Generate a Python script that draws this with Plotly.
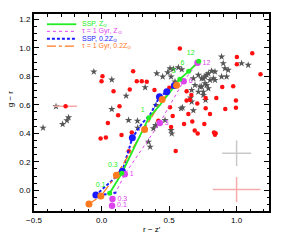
import plotly.graph_objects as go

# ---------------- data ----------------
# galaxies (red dots)
red_x = [0.58, 1.116, 1.002, 1.002, 1.177, 0.234, 0.007, 0.0, 0.089, 0.261, 0.298, 0.335,
         0.209, 0.392, 0.133, 0.123, 0.047, -0.007, 0.032, 0.148, 0.224, 0.202, 0.549,
         0.527, 0.643, 0.611, 0.672, 0.69, 0.712, 0.761, 0.771, 0.709, 0.421, 0.833,
         0.845, 0.84, 0.803, 0.916, 0.995, 0.995, 0.894, 0.975, 0.771, 0.85, 0.63,
         0.665, 0.63, 0.655, 0.502, 0.507, 0.515]
red_y = [0.995, 0.962, 0.935, 0.885, 0.815, 0.835, 0.8, 0.765, 0.695, 0.766, 0.766, 0.762,
         0.708, 0.703, 0.59, 0.527, 0.472, 0.363, 0.37, 0.389, 0.405, 0.275, 0.276,
         0.522, 0.535, 0.465, 0.483, 0.42, 0.398, 0.465, 0.576, 0.61, 0.488, 0.405,
         0.4, 0.39, 0.535, 0.57, 0.58, 0.63, 0.725, 0.73, 0.648, 0.648, 0.695,
         0.668, 0.63, 0.635, 0.72, 0.582, 0.445]

# outlier galaxy with horizontal error bar
out_x = [-0.266]
out_y = [0.59]
out_xerr = [0.085]

# comparison sample (grey stars)
star_x = [0.889, 0.901, 0.914, 0.938, 0.84, 0.815, 0.791, 0.766, 0.754, 0.828, 0.803, 0.84,
          0.889, 0.926, 1.037, 1.086, 0.778, 0.741, 0.754, 0.409, 0.507, 0.532, 0.569,
          0.594, 0.49, 0.515, 0.453, 0.323, 0.544, 0.68, 0.717, 0.741, 0.778, 0.692,
          0.729, 0.766, 0.791, 0.667, 0.717, 0.754, 0.589, 0.667, 0.266, 0.384, 0.401,
          0.515, 0.52, 0.347, 0.36, 0.268, 0.182, 0.076, 0.2, -0.057, 0.076, -0.433,
          -0.337, -0.288, -0.256, -0.244, 0.77, 0.68, 0.60, 0.47, 0.404, 0.66]
star_y = [0.937, 0.891, 0.855, 0.844, 0.832, 0.837, 0.82, 0.797, 0.785, 0.785, 0.773, 0.773,
          0.797, 0.797, 0.891, 0.879, 0.738, 0.727, 0.691, 0.82, 0.855, 0.851, 0.862,
          0.848, 0.827, 0.797, 0.797, 0.722, 0.762, 0.785, 0.809, 0.785, 0.809, 0.738,
          0.727, 0.75, 0.715, 0.703, 0.691, 0.668, 0.574, 0.621, 0.487, 0.434, 0.457,
          0.422, 0.398, 0.34, 0.305, 0.438, 0.663, 0.569, 0.492, 0.832, 0.776, 0.438,
          0.588, 0.464, 0.49, 0.511, 0.633, 0.56, 0.58, 0.492, 0.598, 0.65]

# typical error crosses
err_grey_x, err_grey_y, err_grey_dx, err_grey_dy = [1.0], [0.26], [0.107], [0.09]
err_red_x, err_red_y, err_red_dx, err_red_dy = [1.0], [0.005], [0.177], [0.088]

# model tracks
ages = ["0.1", "0.3", "1", "3", "6", "12"]

ssp_sun_track_x = [0.06, 0.15, 0.25, 0.35, 0.436, 0.58, 0.645, 0.72]
ssp_sun_track_y = [-0.02, 0.12, 0.315, 0.51, 0.602, 0.78, 0.835, 0.905]
ssp_sun_x = [0.06, 0.15, 0.35, 0.58, 0.645, 0.72]
ssp_sun_y = [-0.02, 0.12, 0.51, 0.78, 0.835, 0.905]

tau_sun_x = [0.078, 0.081, 0.172, 0.431, 0.608, 0.711]
tau_sun_y = [-0.108, -0.061, 0.112, 0.473, 0.766, 0.895]

ssp_low_track_x = [0.11, 0.06, -0.042, 0.154, 0.228, 0.30, 0.36, 0.429, 0.483, 0.54]
ssp_low_track_y = [-0.015, -0.025, -0.033, 0.134, 0.368, 0.47, 0.53, 0.656, 0.691, 0.735]
ssp_low_x = [-0.042, 0.154, 0.228, 0.429, 0.483, 0.54]
ssp_low_y = [-0.033, 0.134, 0.368, 0.656, 0.691, 0.735]

tau_low_x = [-0.093, -0.005, 0.11, 0.319, 0.449, 0.556]
tau_low_y = [-0.096, -0.04, 0.105, 0.427, 0.637, 0.738]

legend_labels = ["SSP, Z<sub>\u2299</sub>", "\u03c4 = 1 Gyr, Z<sub>\u2299</sub>",
                 "SSP, 0.2Z<sub>\u2299</sub>", "\u03c4 = 1 Gyr, 0.2Z<sub>\u2299</sub>"]

# ---------------- style ----------------
GREEN = "#22ee22"
MAG = "#dd44ee"
BLUE = "#1a1aff"
ORANGE = "#ff7a1f"
FONT = "Liberation Sans, Arial, sans-serif"

fig = go.Figure()

# error crosses
fig.add_trace(go.Scatter(x=err_grey_x, y=err_grey_y, mode="markers",
                         marker=dict(size=1, opacity=0),
                         error_x=dict(type="data", array=err_grey_dx, color="#c8c8c8", thickness=1.5, width=0),
                         error_y=dict(type="data", array=err_grey_dy, color="#c8c8c8", thickness=1.5, width=0)))
fig.add_trace(go.Scatter(x=err_red_x, y=err_red_y, mode="markers",
                         marker=dict(size=1, opacity=0),
                         error_x=dict(type="data", array=err_red_dx, color="#f6aaaa", thickness=1.5, width=0),
                         error_y=dict(type="data", array=err_red_dy, color="#f6aaaa", thickness=1.5, width=0)))

# stars
fig.add_trace(go.Scatter(x=star_x, y=star_y, mode="markers",
                         marker=dict(symbol="star", size=5.5, color="#555555", line=dict(width=0))))
# red galaxies
fig.add_trace(go.Scatter(x=red_x, y=red_y, mode="markers",
                         marker=dict(symbol="circle", size=4.5, color="#ff1010", line=dict(width=0))))
fig.add_trace(go.Scatter(x=out_x, y=out_y, mode="markers",
                         marker=dict(symbol="circle", size=4.5, color="#ff1010", line=dict(width=0)),
                         error_x=dict(type="data", array=out_xerr, color="#f6aaaa", thickness=1.5, width=0)))

# tracks: lines
fig.add_trace(go.Scatter(x=tau_sun_x, y=tau_sun_y, mode="lines",
                         line=dict(color=MAG, width=1, dash="dot")))
fig.add_trace(go.Scatter(x=ssp_low_track_x, y=ssp_low_track_y, mode="lines",
                         line=dict(color=BLUE, width=2, dash="3px,2px")))
fig.add_trace(go.Scatter(x=tau_low_x, y=tau_low_y, mode="lines",
                         line=dict(color=ORANGE, width=1.3, dash="dashdot")))
fig.add_trace(go.Scatter(x=ssp_sun_track_x, y=ssp_sun_track_y, mode="lines",
                         line=dict(color=GREEN, width=1.8)))

# tracks: age markers
fig.add_trace(go.Scatter(x=ssp_low_x, y=ssp_low_y, mode="markers",
                         marker=dict(size=7, color=BLUE, line=dict(width=0))))
fig.add_trace(go.Scatter(x=tau_low_x, y=tau_low_y, mode="markers",
                         marker=dict(size=7, color=ORANGE, line=dict(width=0))))
fig.add_trace(go.Scatter(x=tau_sun_x, y=tau_sun_y, mode="markers+text", text=ages,
                         textposition="middle right",
                         textfont=dict(family=FONT, size=7, color=MAG),
                         marker=dict(size=6.5, color=MAG, line=dict(width=0))))
fig.add_trace(go.Scatter(x=ssp_sun_x, y=ssp_sun_y, mode="markers+text", text=ages,
                         textposition="top left",
                         textfont=dict(family=FONT, size=7, color=GREEN),
                         marker=dict(size=5, color=GREEN, line=dict(width=0))))

# manual legend (line samples + coloured text)
leg_colors = [GREEN, MAG, BLUE, ORANGE]
leg_dash = ["solid", "dot", "3px,2px", "dashdot"]
leg_width = [1.8, 1, 2, 1.3]
leg_rows = [0.948, 0.912, 0.874, 0.837]
shapes = []
annotations = []
for lab, c, d, w, yy in zip(legend_labels, leg_colors, leg_dash, leg_width, leg_rows):
    shapes.append(dict(type="line", xref="paper", yref="paper", x0=0.055, x1=0.18, y0=yy, y1=yy,
                       line=dict(color=c, width=w, dash=d)))
    annotations.append(dict(xref="paper", yref="paper", x=0.197, y=yy, text=lab, showarrow=False,
                            xanchor="left", yanchor="middle", font=dict(family=FONT, size=7, color=c)))

# axis titles
annotations.append(dict(xref="paper", yref="paper", x=0.5, y=-0.093, text="r \u2212 z\u2032", showarrow=False,
                        xanchor="center", yanchor="middle", font=dict(family=FONT, size=8, color="black")))
annotations.append(dict(xref="paper", yref="paper", x=-0.1, y=0.57, text="g \u2212 r", showarrow=False,
                        textangle=-90, xanchor="center", yanchor="middle",
                        font=dict(family=FONT, size=8, color="black")))

axis_common = dict(showgrid=False, zeroline=False, showline=True, linecolor="black", linewidth=2,
                   mirror="allticks", ticks="inside", tickcolor="black", tickwidth=1, ticklen=5,
                   tickfont=dict(family=FONT, size=8, color="black"), tickformat=".1f")

fig.update_layout(
    width=291, height=240,
    margin=dict(l=34, r=22, t=14, b=29),
    paper_bgcolor="white", plot_bgcolor="white",
    showlegend=False,
    shapes=shapes, annotations=annotations,
    xaxis=dict(range=[-0.5, 1.24], tick0=-0.5, dtick=0.5,
               minor=dict(dtick=0.1, ticks="inside", ticklen=2.5, tickcolor="black", tickwidth=1),
               **axis_common),
    yaxis=dict(range=[-0.145, 1.237], tick0=0, dtick=0.2,
               minor=dict(dtick=0.05, ticks="inside", ticklen=2.5, tickcolor="black", tickwidth=1),
               **axis_common),
)

fig.write_html("out.html",
               config={"displayModeBar": False},
               post_script="document.body.style.margin='0';document.body.style.padding='0';"
                           "document.documentElement.style.overflow='hidden';")
